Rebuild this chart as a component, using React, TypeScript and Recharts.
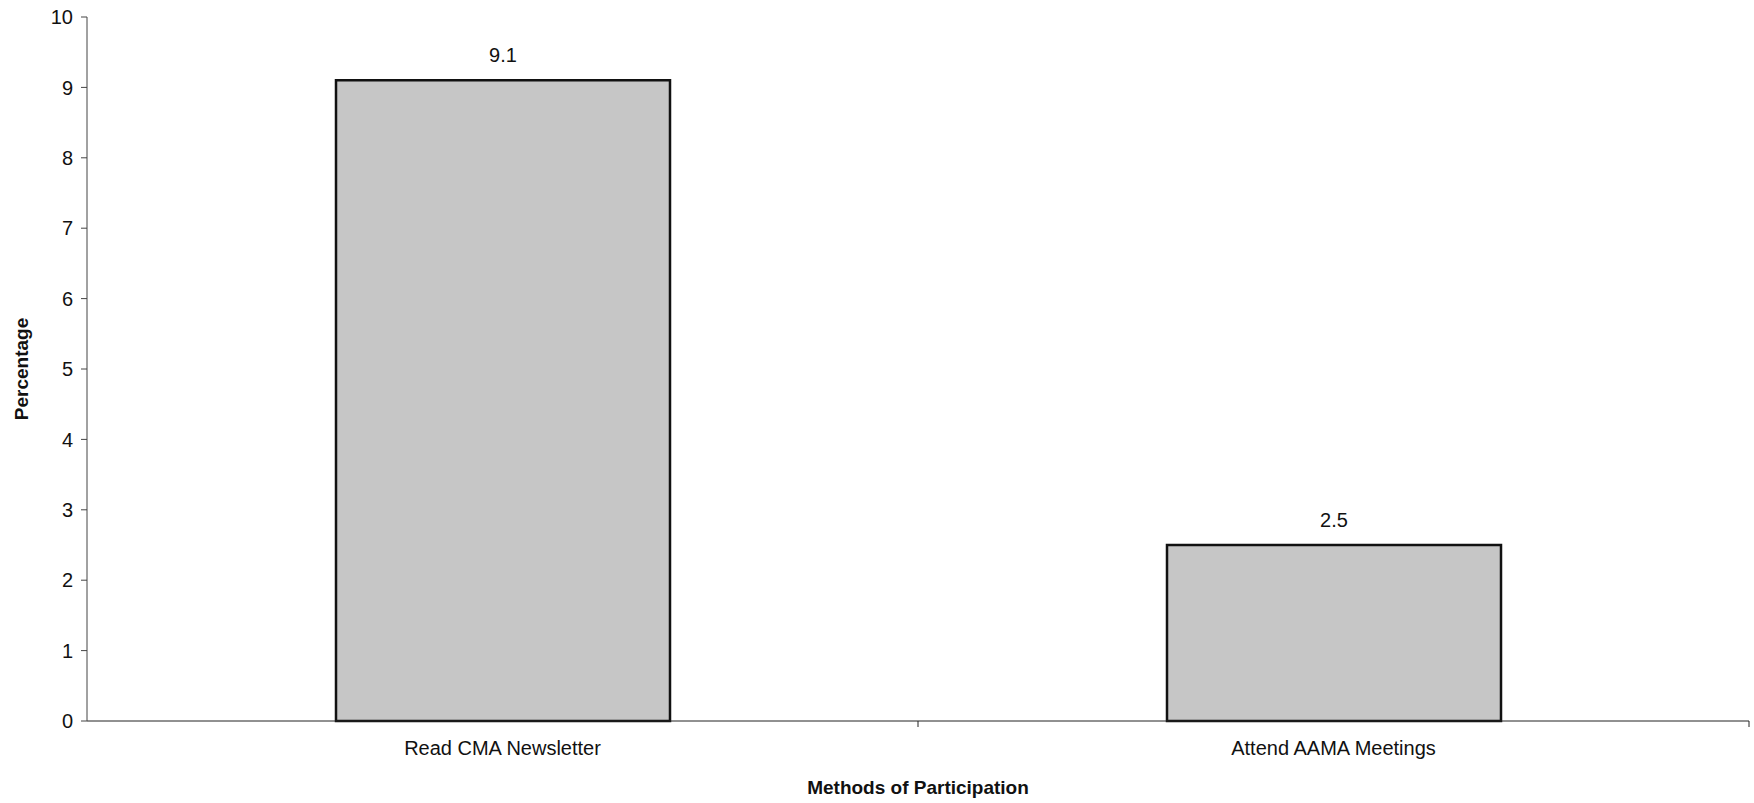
import { BarChart, Bar, XAxis, YAxis, LabelList } from "recharts";

const categories = ["Read CMA Newsletter", "Attend AAMA Meetings"];
const percentages = [9.1, 2.5];
const yTicks = [0, 1, 2, 3, 4, 5, 6, 7, 8, 9, 10];

const data = categories.map((method, i) => ({ method, pct: percentages[i] }));

const WIDTH = 1754;
const HEIGHT = 803;
const MARGIN = { top: 17, right: 5, left: 0, bottom: 0 };
const Y_WIDTH = 87;
const FONT = "'Liberation Sans', Arial, sans-serif";

// half a category band, used to put the x tick marks on the boundaries like Excel does
const halfBand = (WIDTH - MARGIN.left - MARGIN.right - Y_WIDTH) / categories.length / 2;

const CategoryTick = ({ x, y, payload }: any) => (
    <g>
        <line x1={x + halfBand} y1={y - 8} x2={x + halfBand} y2={y - 2} stroke="#222" strokeWidth={1} />
        <text x={x} y={y + 26} textAnchor="middle" fontSize={20} fontFamily={FONT} fill="#111">
            {payload.value}
        </text>
    </g>
);

export default function App() {
    return (
        <div style={{ position: "absolute", left: 0, top: 0, width: WIDTH, height: HEIGHT, background: "#fff" }}>
            <BarChart width={WIDTH} height={HEIGHT} data={data} margin={MARGIN}>
                <XAxis
                    dataKey="method"
                    height={82}
                    stroke="#222"
                    tickLine={false}
                    tick={<CategoryTick />}
                    label={{
                        value: "Methods of Participation",
                        position: "insideBottom",
                        offset: 9,
                        fontSize: 19,
                        fontWeight: 700,
                        fontFamily: FONT,
                        fill: "#111",
                    }}
                />
                <YAxis
                    width={Y_WIDTH}
                    domain={[0, 10]}
                    ticks={yTicks}
                    interval={0}
                    stroke="#444"
                    tickSize={6}
                    tickMargin={8}
                    tick={{ fontSize: 20, fontFamily: FONT, fill: "#111" }}
                    label={{
                        value: "Percentage",
                        angle: -90,
                        position: "insideLeft",
                        offset: 21,
                        fontSize: 19,
                        fontWeight: 700,
                        fontFamily: FONT,
                        fill: "#111",
                        style: { textAnchor: "middle" },
                    }}
                />
                <Bar dataKey="pct" barSize={334} fill="#c6c6c6" stroke="#111" strokeWidth={2.5} isAnimationActive={false}>
                    <LabelList dataKey="pct" position="top" offset={18} fontSize={20} fontFamily={FONT} fill="#111" />
                </Bar>
            </BarChart>
        </div>
    );
}
